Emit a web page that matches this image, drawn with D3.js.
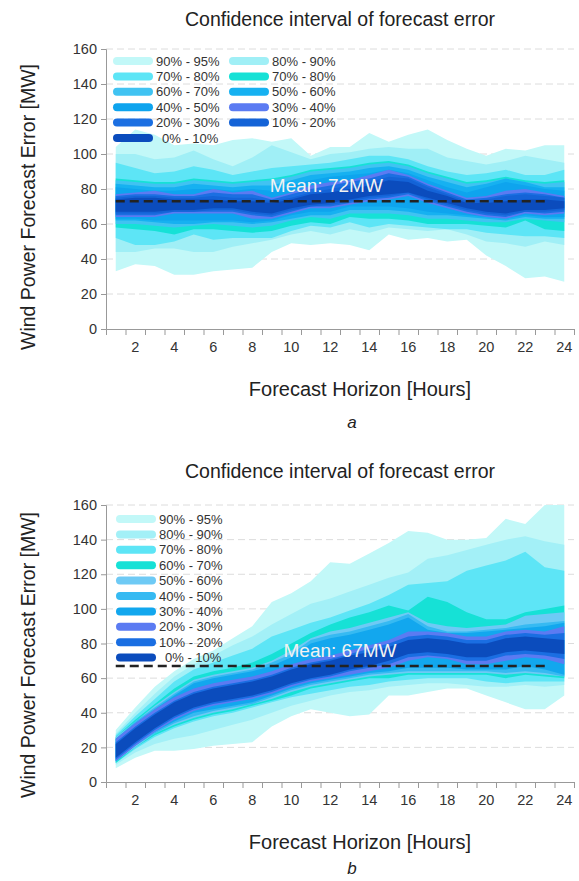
<!DOCTYPE html>
<html>
<head>
<meta charset="utf-8">
<script src="https://cdn.jsdelivr.net/npm/d3@7/dist/d3.min.js"></script>
<style>
  body { margin: 0; background: #fff; }
  text { font-family: "Liberation Sans", Arial, sans-serif; }
</style>
</head>
<body>
<svg id="chart" width="579" height="881"></svg>
<script>
// forecast horizon (hours)
const hours = [1,2,3,4,5,6,7,8,9,10,11,12,13,14,15,16,17,18,19,20,21,22,23,24];
const yTicks = [0,20,40,60,80,100,120,140,160];
const xLabels = [2,4,6,8,10,12,14,16,18,20,22,24];

// ---- panel a ----
const labelsA = ["90% - 95%","80% - 90%","70% - 80%","70% - 80%","60% - 70%","50% - 60%",
                 "40% - 50%","30% - 40%","20% - 30%","10% - 20%","0% - 10%"];
const colorsA = ["#c2f8f8","#a0eff6","#5de5f6","#16e1d6","#40c3f2","#16b1f1",
                 "#0ea4ee","#5b7bf2","#1b6fe2","#1463d7","#0b4cbd"];
// upper bound of each band (outermost first)
const upperA = [
  [104,114,111,105,106,105,108,109,107,109,99,104,104,112,107,111,114,108,103,99,103,102,105,105],
  [100,100,97,98,102,97,93,98,105,101,97,100,101,103,104,103,103,98,96,94,96,99,97,95],
  [95,92,89,90,93,91,88,90,92,93,94,95,97,99,99,97,93,90,88,89,91,88,88,91],
  [86,85,84,84,86,85,84,85,86,88,91,92,93,95,96,94,90,87,84,85,87,85,84,85],
  [85,84,83,83,85,84,83,84,85,87,90,91,92,94,95,93,89,86,83,84,86,84,83,84],
  [83,82,81,81,83,82,81,82,82,85,88,89,90,92,93,91,87,84,81,83,86,84,81,81],
  [81,80,79,79,80,80,79,80,79,82,85,87,88,89,91,89,85,81,78,81,84,82,80,79],
  [77,78,79,77,77,80,78,79,75,78,82,84,85,88,91,88,83,79,75,76,79,80,78,76],
  [76,77,77,76,76,78,77,77,74,77,80,82,84,86,89,87,82,78,74,75,77,78,77,75],
  [75,76,76,75,75,76,75,75,73,75,78,80,82,84,87,86,81,77,73,74,76,77,76,75],
  [74,75,75,74,74,74,73,73,72,74,77,78,80,82,85,84,79,76,72,72,73,74,74,73]
];
const lowerA = [
  [33,37,36,31,31,33,34,35,44,49,48,49,48,45,54,51,52,50,51,42,36,29,30,27],
  [44,44,46,46,44,44,47,49,51,54,56,54,57,55,58,57,56,57,54,50,49,47,50,48],
  [52,48,48,50,54,51,52,52,52,56,59,58,61,58,60,59,58,57,57,55,54,53,53,52],
  [58,57,56,54,57,57,56,55,56,59,61,60,64,63,63,62,60,60,60,59,58,62,57,56],
  [60,60,59,58,59,60,59,58,59,62,64,63,66,66,66,65,63,63,62,61,61,63,62,61],
  [62,62,61,60,60,61,61,60,61,63,65,65,68,68,68,67,65,65,64,63,62,64,63,63],
  [63,63,62,62,62,62,62,61,62,65,67,67,70,70,70,69,67,66,65,64,63,65,64,64],
  [64,64,64,66,66,66,66,63,63,66,69,69,71,73,74,76,72,69,66,64,63,66,65,66],
  [65,65,65,67,67,67,67,65,64,67,70,70,72,74,75,77,73,70,67,65,64,67,66,67],
  [66,66,66,67,67,68,68,66,65,68,70,71,73,75,76,78,74,71,68,66,65,67,67,68],
  [67,67,67,68,68,69,69,67,66,69,71,72,74,76,77,78,75,72,69,67,66,68,68,69]
];
const meanA = 73;

// ---- panel b ----
const labelsB = ["90% - 95%","80% - 90%","70% - 80%","60% - 70%","50% - 60%",
                 "40% - 50%","30% - 40%","20% - 30%","10% - 20%","0% - 10%"];
const colorsB = ["#c2f8f8","#a3f0f7","#5de5f6","#16e1d6","#6ecaf5",
                 "#36baf2","#12a7ee","#5b7bf2","#1a6ee2","#0b4cbd"];
const upperB = [
  [30,43,55,64,71,76,83,90,104,109,116,127,126,132,138,145,144,140,140,141,152,149,160,160],
  [28,40,51,61,68,73,79,84,91,97,103,106,110,114,118,121,129,131,134,137,140,142,139,137],
  [27,38,48,58,65,69,73,77,84,88,92,95,99,103,108,114,115,116,122,125,128,133,124,122],
  [26,36,45,54,61,64,66,69,74,80,86,91,95,98,102,99,107,104,98,94,94,98,100,102],
  [26,35,44,52,59,62,64,66,70,76,83,87,89,92,95,98,92,90,89,90,91,96,97,98],
  [25,35,43,51,58,61,63,65,69,74,82,85,87,90,93,97,90,87,87,88,89,91,92,93],
  [25,34,42,50,57,60,62,64,67,72,80,83,85,88,91,95,88,86,86,87,88,89,90,92],
  [25,34,42,49,54,57,59,61,64,68,71,73,76,79,82,87,87,86,84,84,87,88,87,90],
  [23,32,40,47,52,55,57,59,62,66,69,71,74,77,80,84,85,84,82,82,85,86,85,86],
  [22,31,39,46,51,54,56,58,61,65,68,70,73,75,78,82,83,82,80,80,83,84,83,82]
];
const lowerB = [
  [8,14,18,18,19,21,22,23,32,38,42,40,38,39,50,50,52,54,54,50,46,42,42,50],
  [10,17,22,25,27,30,33,36,40,44,47,50,52,53,55,56,57,57,56,55,55,56,55,56],
  [11,19,26,31,35,38,40,43,46,49,51,53,55,56,58,59,60,60,60,58,57,58,58,58],
  [11,20,27,32,36,39,41,44,47,50,54,56,58,60,60,62,62,62,62,62,60,62,61,60],
  [12,20,28,33,37,40,42,45,48,52,55,57,59,61,62,63,63,63,63,63,62,63,62,61],
  [12,21,28,34,38,41,43,45,49,53,56,58,60,62,63,64,64,64,64,64,63,64,63,61],
  [12,21,29,35,40,42,44,46,50,54,57,59,61,63,64,66,66,66,65,65,65,67,65,62],
  [12,21,29,36,41,44,46,48,51,55,58,60,62,64,66,70,72,71,68,68,70,72,71,68],
  [13,22,30,37,42,45,47,49,52,56,59,61,64,66,68,72,73,72,70,70,73,74,73,71],
  [14,23,31,38,43,46,48,50,53,57,60,62,65,67,70,74,75,74,72,72,75,76,75,74]
];
const meanB = 67;

const svg = d3.select("#chart");

function drawPanel(p) {
  const g = svg.append("g");
  const x = d3.scaleLinear().domain([0.5, 24.5]).range([106, 574]);
  const y = d3.scaleLinear().domain([0, 160]).range([p.y0, p.y160]);

  // title
  g.append("text").attr("x", 340).attr("y", p.titleY)
    .attr("text-anchor", "middle").attr("font-size", 19.5).attr("fill", "#222")
    .text("Confidence interval of forecast error");

  // grid
  g.append("g").selectAll("line").data(yTicks.filter(d => d > 0)).enter()
    .append("line")
    .attr("x1", x(0.5)).attr("x2", x(24.5))
    .attr("y1", d => y(d)).attr("y2", d => y(d))
    .attr("stroke", "#dcdcdc").attr("stroke-width", 1)
    .attr("stroke-dasharray", "7,4");

  // bands, outermost first
  const area = d3.area()
    .x((d, i) => x(hours[i]))
    .y0(d => y(d[0]))
    .y1(d => y(d[1]));
  p.upper.forEach((up, k) => {
    const pts = up.map((v, i) => [p.lower[k][i], v]);
    g.append("path").datum(pts)
      .attr("d", area)
      .attr("fill", p.colors[k]);
  });

  // axes
  const yAxis = d3.axisLeft(y).tickValues(yTicks).tickSize(5).tickPadding(4);
  const ya = g.append("g").attr("transform", `translate(${x(0.5)},0)`).call(yAxis);
  ya.select(".domain").attr("stroke", "#999");
  ya.selectAll(".tick line").attr("stroke", "#999");
  ya.selectAll("text").attr("font-size", 14.5).attr("fill", "#333")
    .attr("font-family", "Liberation Sans, Arial, sans-serif");

  const xTickPos = [1.5,2.5,3.5,4.5,5.5,6.5,7.5,8.5,9.5,10.5,11.5,12.5,13.5,14.5,15.5,16.5,17.5,18.5,19.5,20.5,21.5,22.5,23.5,24.5];
  const xAxis = d3.axisBottom(x).tickValues(xTickPos).tickSize(6).tickFormat("");
  const xa = g.append("g").attr("transform", `translate(0,${y(0)})`).call(xAxis);
  xa.select(".domain").attr("stroke", "#999");
  xa.selectAll(".tick line").attr("stroke", "#999");

  g.append("g").selectAll("text").data(xLabels).enter()
    .append("text")
    .attr("x", d => x(d)).attr("y", y(0) + 23)
    .attr("text-anchor", "middle").attr("font-size", 14.5).attr("fill", "#333")
    .text(d => d);

  // axis titles
  g.append("text")
    .attr("transform", `translate(35,${p.yLabelY}) rotate(-90)`)
    .attr("text-anchor", "middle").attr("font-size", 19.5).attr("fill", "#222")
    .text("Wind Power Forecast Error [MW]");
  g.append("text").attr("x", 360).attr("y", p.xTitleY)
    .attr("text-anchor", "middle").attr("font-size", 20).attr("fill", "#222")
    .text("Forecast Horizon [Hours]");
  g.append("text").attr("x", 352).attr("y", p.capY)
    .attr("text-anchor", "middle").attr("font-size", 17).attr("font-style", "italic")
    .attr("fill", "#222").text(p.caption);

  // mean line + label
  g.append("line")
    .attr("x1", x(1)).attr("x2", x(23.1))
    .attr("y1", y(p.mean)).attr("y2", y(p.mean))
    .attr("stroke", "#222").attr("stroke-width", 2.5)
    .attr("stroke-dasharray", "9,5");
  g.append("text")
    .attr("x", x(p.meanLabelHour)).attr("y", y(p.mean) - 9)
    .attr("text-anchor", "middle").attr("font-size", 19).attr("fill", "#f2f2f2")
    .text(p.meanText);

  // legend
  const lg = g.append("g");
  p.labels.forEach((lab, i) => {
    const col = i % p.cols, row = Math.floor(i / p.cols);
    const lx = p.legX + col * 116, ly = p.legY + row * 15.4;
    lg.append("rect").attr("x", lx).attr("y", ly - 4).attr("width", 40).attr("height", 8)
      .attr("rx", 4).attr("fill", p.colors[i]);
    lg.append("text").attr("x", lx + 43 + (lab.startsWith("0%") ? 6 : 0)).attr("y", ly + 4.5)
      .attr("font-size", 13).attr("fill", "#333").text(lab);
  });
}

drawPanel({
  upper: upperA, lower: lowerA, colors: colorsA, labels: labelsA,
  y0: 329, y160: 49, titleY: 26, yLabelY: 207, xTitleY: 396, capY: 428,
  caption: "a", mean: meanA, meanText: "Mean: 72MW", meanLabelHour: 11.8,
  cols: 2, legX: 113, legY: 61
});
drawPanel({
  upper: upperB, lower: lowerB, colors: colorsB, labels: labelsB,
  y0: 782, y160: 505, titleY: 478, yLabelY: 655, xTitleY: 849, capY: 874,
  caption: "b", mean: meanB, meanText: "Mean: 67MW", meanLabelHour: 12.5,
  cols: 1, legX: 116, legY: 519
});
</script>
</body>
</html>
